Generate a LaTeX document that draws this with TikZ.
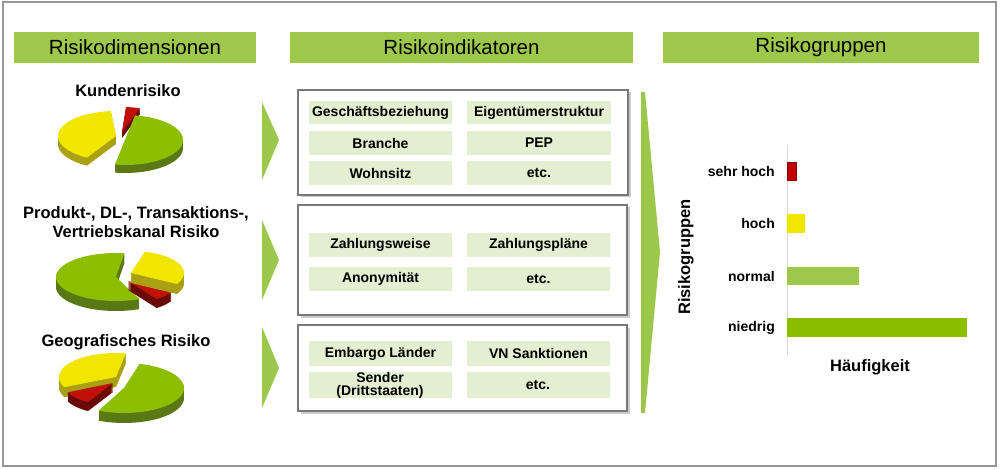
\documentclass[tikz,border=0pt]{standalone}
\usepackage{fontspec}
\setmainfont{Liberation Sans}
\usetikzlibrary{shadows}
\definecolor{hdr}{RGB}{157,200,75}
\definecolor{cellg}{RGB}{227,239,208}
\definecolor{framec}{RGB}{150,150,150}
\definecolor{boxc}{RGB}{120,120,120}
\definecolor{arrowg}{RGB}{155,200,74}
\definecolor{pieY}{RGB}{240,230,0}
\definecolor{pieYs}{RGB}{170,160,20}
\definecolor{pieG}{RGB}{141,190,0}
\definecolor{pieGs}{RGB}{90,120,20}
\definecolor{pieR}{RGB}{192,16,10}
\definecolor{pieRs}{RGB}{105,10,5}
\definecolor{barR}{RGB}{192,0,0}
\definecolor{barY}{RGB}{240,230,0}
\definecolor{barN}{RGB}{157,200,75}
\definecolor{barL}{RGB}{140,190,0}
\definecolor{axisc}{RGB}{215,215,215}
\newcommand{\myslice}[9]{%
  \foreach \t in {1,...,#7}{%
    \fill[#9] ({#1},{#2+\t}) -- plot[domain=#5:#6,samples=40] ({#1+#3*cos(\x)},{#2+\t-#4*sin(\x)}) -- cycle;
  }%
  \fill[#8] ({#1},{#2}) -- plot[domain=#5:#6,samples=40] ({#1+#3*cos(\x)},{#2-#4*sin(\x)}) -- cycle;
}
\tikzset{
  hdrbar/.style={fill=hdr, inner sep=0pt, minimum height=31pt, font=\fontsize{20.5}{24}\selectfont, text=black},
  cellbox/.style={fill=cellg, inner sep=0pt, minimum height=24pt, font=\fontsize{14}{14}\bfseries, align=center},
  groupbox/.style={draw=boxc, line width=1.1pt, fill=white, drop shadow={shadow xshift=2.5pt, shadow yshift=-2.5pt, fill=black!40}},
  chev/.style={fill=arrowg},
  pietitle/.style={font=\fontsize{16.5}{19}\bfseries, align=center, inner sep=0pt},
  barlabel/.style={font=\fontsize{14}{16}\bfseries, anchor=east, inner sep=0pt},
  axislabel/.style={font=\fontsize{16.5}{19}\bfseries, inner sep=0pt}
}
\begin{document}
\begin{tikzpicture}[x=1pt,y=-1pt]
\useasboundingbox (0,0) rectangle (1000,470);
\fill[white] (0,0) rectangle (1000,470);
\draw[framec, line width=1.5pt] (3,2) rectangle (996,466);

% headers
\node[hdrbar, minimum width=242pt] (h1) at (135,47.5) {Risikodimensionen};
\node[hdrbar, minimum width=343pt] (h2) at (461.5,47.5) {Risikoindikatoren};
\node[hdrbar, minimum width=316pt] (h3) at (821,47.5) {Risikogruppen};

% pie titles
\node[pietitle] (t1) at (128,91) {Kundenrisiko};
\node[pietitle] (t2) at (136,222.5) {Produkt-, DL-, Transaktions-,\\Vertriebskanal Risiko};
\node[pietitle] (t3) at (126,342) {Geografisches Risiko};

% pie 1
\myslice{122}{132}{58}{25}{72}{86}{6}{pieR}{pieRs}
\myslice{116}{136}{58}{25}{95}{240}{8}{pieY}{pieYs}
\myslice{125}{140}{58}{25}{-100}{80}{8}{pieG}{pieGs}

% pie 2
\myslice{116}{277}{60}{24}{82}{293}{10}{pieG}{pieGs}
\myslice{128}{281}{50}{22}{-55}{-30}{9}{pieR}{pieRs}
\myslice{131}{273}{53}{22}{-30}{75}{10}{pieY}{pieYs}

% pie 3
\myslice{116}{377}{57}{24}{80}{205}{10}{pieY}{pieYs}
\myslice{113}{383}{50}{22}{205}{240}{9}{pieR}{pieRs}
\myslice{124}{388}{60}{25}{-115}{75}{10}{pieG}{pieGs}

% small chevrons
\fill[chev] (262,102) -- (279,140) -- (262,180) -- cycle;
\fill[chev] (262,220) -- (279,260) -- (262,300) -- cycle;
\fill[chev] (262,327) -- (279,368) -- (262,408) -- cycle;

% group boxes
\node[groupbox, minimum width=330pt, minimum height=105pt] (b1) at (463,142.5) {};
\node[groupbox, minimum width=329pt, minimum height=110pt] (b2) at (462.5,260) {};
\node[groupbox, minimum width=329pt, minimum height=86pt] (b3) at (462.5,368) {};

% cells box 1
\node[cellbox, minimum width=143pt, minimum height=23pt] (c11) at (380.5,112.5) {Geschäftsbeziehung};
\node[cellbox, minimum width=144pt, minimum height=23pt] (c12) at (539,112.5) {Eigentümerstruktur};
\node[cellbox, minimum width=143pt] (c13) at (380.5,143) {Branche};
\node[cellbox, minimum width=144pt] (c14) at (539,143) {PEP};
\node[cellbox, minimum width=143pt] (c15) at (380.5,173) {Wohnsitz};
\node[cellbox, minimum width=144pt] (c16) at (539,173) {etc.};

% cells box 2
\node[cellbox, minimum width=143pt] (c21) at (380.5,245) {Zahlungsweise};
\node[cellbox, minimum width=143pt] (c22) at (538.5,245) {Zahlungspläne};
\node[cellbox, minimum width=143pt] (c23) at (380.5,279) {Anonymität};
\node[cellbox, minimum width=143pt] (c24) at (538.5,279) {etc.};

% cells box 3
\node[cellbox, minimum width=143pt, minimum height=25pt] (c31) at (380.5,353.5) {Embargo Länder};
\node[cellbox, minimum width=143pt, minimum height=25pt] (c32) at (538.5,353.5) {VN Sanktionen};
\node[cellbox, minimum width=143pt, minimum height=26pt, font=\fontsize{14}{13}\bfseries] (c33) at (380,385) {Sender\\(Drittstaaten)};
\node[cellbox, minimum width=143pt, minimum height=26pt] (c34) at (538,385) {etc.};

% big arrow
\fill[chev] (641,92) -- (645,92) -- (660,252) -- (645,413) -- (641,413) -- cycle;

% chart
\node[axislabel, rotate=90] (rg) at (686,257) {Risikogruppen};
\draw[axisc, line width=1pt] (787,145) -- (787,355);
\fill[barR] (787,162) rectangle (796,180);
\draw[barR!70!black, line width=0.5pt] (787,162) rectangle (796,180);
\fill[barY] (787,214) rectangle (805,233);
\fill[barN] (787,267) rectangle (859,285);
\fill[barL] (787,318) rectangle (967,337);
\node[barlabel] (l1) at (775,171) {sehr hoch};
\node[barlabel] (l2) at (775,223) {hoch};
\node[barlabel] (l3) at (775,276) {normal};
\node[barlabel] (l4) at (775,328) {niedrig};
\node[axislabel] (hf) at (870,367) {Häufigkeit};
\end{tikzpicture}
\end{document}
